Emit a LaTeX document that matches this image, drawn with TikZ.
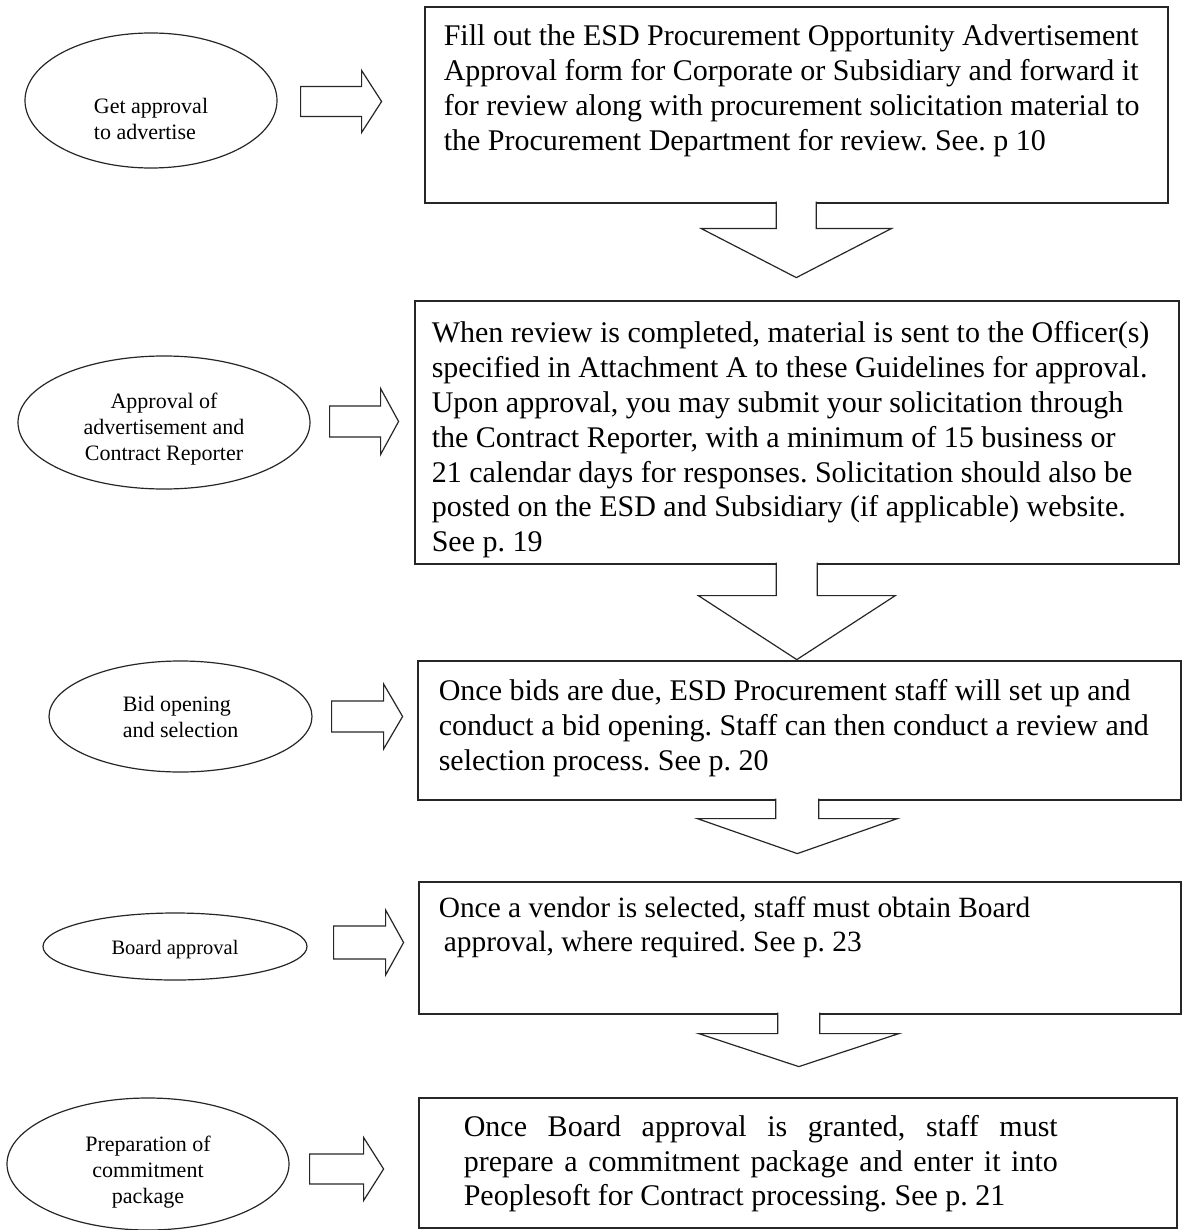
\documentclass[tikz,border=0pt]{standalone}
\usepackage{fontspec}
\setmainfont{Liberation Serif}
\usetikzlibrary{calc,shapes.geometric}
\frenchspacing

\begin{document}
\begin{tikzpicture}[x=1pt, y=-1pt]

% Styly uzlů a šipek
\tikzstyle{stage} = [ellipse, draw=black!85, line width=1.2pt, inner sep=0pt, font=\fontsize{22}{26}\selectfont]
\tikzstyle{process} = [rectangle, draw=black!85, line width=1.6pt, anchor=north west, inner sep=0pt, align=flush left, font=\fontsize{30}{34.8}\selectfont]
\tikzstyle{blockarrow} = [draw=black!85, line width=1.2pt, line join=miter]

\useasboundingbox (0,0) rectangle (1183,1230);

% Elipsy vlevo
\node (approval) [stage, align=flush left, minimum width=252pt, minimum height=135pt] at (151,100.5) {\rule{0pt}{53pt}Get approval\\to advertise};
\node (advert) [stage, align=flush center, minimum width=292pt, minimum height=133pt] at (164,422.5) {\rule{0pt}{29pt}Approval of\\advertisement and\\Contract Reporter};
\node (bids) [stage, align=flush left, minimum width=263pt, minimum height=111pt] at (180.5,716.5) {Bid opening\\and selection};
\node (board) [stage, font=\fontsize{20.5}{24}\selectfont, minimum width=264pt, minimum height=67pt] at (175,946.5) {\rule{0pt}{20pt}Board approval};
\node (commitment) [stage, align=flush center, minimum width=282pt, minimum height=132pt] at (148,1164) {\rule{0pt}{31pt}Preparation of\\commitment\\package};

% Rámečky vpravo
\node (form) [process, minimum width=743pt, text width=705pt, text height=39pt, text depth=157pt] at (424,6) {Fill out the ESD Procurement Opportunity Advertisement\\Approval form for Corporate or Subsidiary and forward it\\for review along with procurement solicitation material to\\the Procurement Department for review. See. p 10};
\node (review) [process, minimum width=764pt, text width=730pt, text height=42pt, text depth=221pt] at (414,300) {When review is completed, material is sent to the Officer(s)\\specified in Attachment A to these Guidelines for approval.\\Upon approval, you may submit your solicitation through\\the Contract Reporter, with a minimum of 15 business or\\21 calendar days for responses. Solicitation should also be\\posted on the ESD and Subsidiary (if applicable) website.\\See p. 19};
\node (opening) [process, minimum width=763pt, text width=721pt, text height=40pt, text depth=99pt] at (417,660) {Once bids are due, ESD Procurement staff will set up and\\conduct a bid opening. Staff can then conduct a review and\\selection process. See p. 20};
\node (vendor) [process, font=\fontsize{29.4}{34}\selectfont, minimum width=762pt, text width=722pt, text height=36pt, text depth=96pt] at (418,881) {Once a vendor is selected, staff must obtain Board\\\hspace*{5pt}approval, where required. See p. 23};
\node (package) [process, font=\fontsize{30}{34.5}\selectfont, minimum width=758pt, text width=668pt, text height=39pt, text depth=91pt] at (418,1097) {\makebox[594pt][s]{Once Board approval is granted, staff must}\\\makebox[594pt][s]{prepare a commitment package and enter it into}\\Peoplesoft for Contract processing. See p. 21};

% Šipky doprava
\draw [blockarrow] ($(approval.east)+(23,-14)$) -- ++(61,0) -- ++(0,-16) -- ++(20,31) -- ++(-20,31) -- ++(0,-16) -- ++(-61,0) -- cycle;
\draw [blockarrow] ($(advert.east)+(19,-16.5)$) -- ++(51,0) -- ++(0,-17.5) -- ++(18,33) -- ++(-18,33) -- ++(0,-17.5) -- ++(-51,0) -- cycle;
\draw [blockarrow] ($(bids.east)+(19,-15.5)$) -- ++(52,0) -- ++(0,-17) -- ++(19,32.5) -- ++(-19,32.5) -- ++(0,-17) -- ++(-52,0) -- cycle;
\draw [blockarrow] ($(board.east)+(26,-20.5)$) -- ++(52,0) -- ++(0,-16) -- ++(18,32.5) -- ++(-18,32.5) -- ++(0,-16) -- ++(-52,0) -- cycle;
\draw [blockarrow] ($(commitment.east)+(20,-10)$) -- ++(54,0) -- ++(0,-16.5) -- ++(20,31.5) -- ++(-20,31.5) -- ++(0,-16.5) -- ++(-54,0) -- cycle;

% Šipky dolů
\draw [blockarrow, fill=white] ($(form.south)+(-20,-2)$) -- ++(0,27) -- ++(-75,0) -- ++(95,49) -- ++(95,-49) -- ++(-75,0) -- ++(0,-27);
\draw [blockarrow, fill=white] ($(review.south)+(-20.5,-2)$) -- ++(0,33) -- ++(-78,0) -- ++(98.5,64) -- ++(98.5,-64) -- ++(-78,0) -- ++(0,-33);
\draw [blockarrow, fill=white] ($(opening.south)+(-23.5,-2)$) -- ++(0,20) -- ++(-78.5,0) -- ++(100,35) -- ++(100,-35) -- ++(-78.5,0) -- ++(0,-20);
\draw [blockarrow, fill=white] ($(vendor.south)+(-22,-2)$) -- ++(0,21) -- ++(-79,0) -- ++(100,33) -- ++(100,-33) -- ++(-79,0) -- ++(0,-21);

\end{tikzpicture}
\end{document}
